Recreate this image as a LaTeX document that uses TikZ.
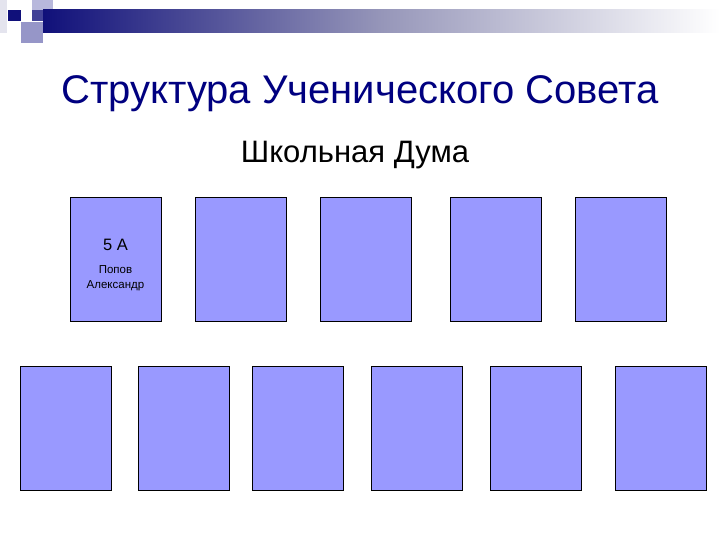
\documentclass[tikz,border=0pt]{standalone}
\usepackage{fontspec}
\setmainfont{Liberation Sans}
\definecolor{boxfill}{HTML}{9999FF}
\definecolor{navy}{HTML}{000080}
\definecolor{darksq}{HTML}{10107A}
\definecolor{lightsq}{HTML}{B8B8DC}
\definecolor{paleside}{HTML}{E4E4EE}
\begin{document}
\begin{tikzpicture}[x=1pt,y=-1pt,
  card/.style={draw=black,line width=0.9pt,fill=boxfill,minimum width=91pt,minimum height=124pt,inner sep=0pt,anchor=north west}]
\useasboundingbox (0,0) rectangle (720,540);
\fill[white] (0,0) rectangle (720,540);
% header decoration
\fill[paleside] (0,0) rectangle (7,33);
\fill[lightsq] (32,0) rectangle (53,21);
\shade[left color=darksq,right color=white,middle color={rgb,255:red,150;green,150;blue,185}] (43,10) rectangle (720,33);
\fill[darksq!70!lightsq] (32,10) rectangle (43,21);
\fill[darksq] (8,10) rectangle (21,21);
\fill[lightsq!80!darksq] (21,22) rectangle (43,43);
% titles
\node[text=navy,font=\fontsize{40}{46}\selectfont] (title) at (360,94) {Структура Ученического Совета};
\node[font=\fontsize{31}{36}\selectfont] (sub) at (355,155) {Школьная Дума};
% top row
\node[card] (t1) at (70,197) {};
\node[card] (t2) at (195,197) {};
\node[card] (t3) at (320,197) {};
\node[card] (t4) at (450,197) {};
\node[card] (t5) at (575,197) {};
\node[font=\fontsize{16.5}{19}\selectfont] (cls) at (115.5,245) {5 А};
\node[font=\fontsize{11.5}{14.5}\selectfont,align=center] (name) at (115.5,278) {Попов\\Александр};
% bottom row
\node[card] (b1) at (20,366) {};
\node[card] (b2) at (138,366) {};
\node[card] (b3) at (252,366) {};
\node[card] (b4) at (371,366) {};
\node[card] (b5) at (490,366) {};
\node[card] (b6) at (615,366) {};
\end{tikzpicture}
\end{document}
